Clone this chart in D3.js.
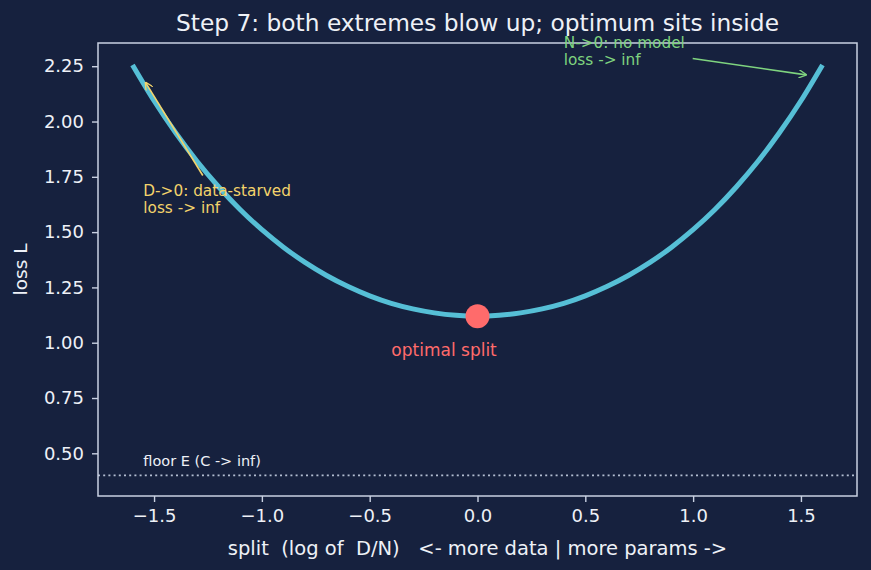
<!DOCTYPE html>
<html><head><meta charset="utf-8">
<script src="https://cdn.jsdelivr.net/npm/d3@7/dist/d3.min.js"></script>
<style>
html,body{margin:0;padding:0;background:#16213e;}
svg{display:block;font-family:"DejaVu Sans",sans-serif;}
text{white-space:pre;}
</style></head>
<body><svg id="c" width="871" height="570"></svg>
<script>
// split values (log of D/N)
const splits = [-1.6,-1.5,-1.4,-1.3,-1.2,-1.1,-1.0,-0.9,-0.8,-0.7,-0.6,-0.5,-0.4,-0.3,-0.2,-0.1,0.0,
                0.1,0.2,0.3,0.4,0.5,0.6,0.7,0.8,0.9,1.0,1.1,1.2,1.3,1.4,1.5,1.6];
const losses = [2.256,2.094,1.949,1.819,1.704,1.601,1.511,1.432,1.363,1.304,1.254,1.212,1.178,1.153,1.135,1.124,1.120,
                1.124,1.135,1.153,1.178,1.212,1.254,1.304,1.363,1.432,1.511,1.601,1.704,1.819,1.949,2.094,2.256];
const optimum = [0.0, 1.12];
const floorE = 0.4;
const xTicks = [-1.5,-1.0,-0.5,0.0,0.5,1.0,1.5];
const yTicks = [0.50,0.75,1.00,1.25,1.50,1.75,2.00,2.25];
const xDomain = [-1.76, 1.76];
const yDomain = [0.307, 2.355];
const titleText = "Step 7: both extremes blow up; optimum sits inside";
const xLabel = "split  (log of  D/N)   <- more data | more params ->";
const yLabel = "loss L";
// annotations: [text lines], text anchor (data), arrow from, arrow to
const annDataStarved = {lines:["D->0: data-starved","loss -> inf"], at:[-1.55,1.575], from:[-1.274,1.756], to:[-1.539,2.176]};
const annNoModel = {lines:["N->0: no model","loss -> inf"], at:[0.40,2.243], from:[0.998,2.285], to:[1.524,2.211]};
const annOptimal = {text:"optimal split", at:[-0.155,0.94]};
const annFloor = {text:"floor E (C -> inf)", at:[-1.55,0.441]};

const W=871,H=570;
const m={l:98,r:857,t:43,b:496};
const svg=d3.select("#c");
svg.append("rect").attr("width",W).attr("height",H).attr("fill","#16213e");
const x=d3.scaleLinear().domain(xDomain).range([m.l,m.r]);
const y=d3.scaleLinear().domain(yDomain).range([m.b,m.t]);

const txt="#eef1f7", spine="#c9d1e2";
const fmtMinus = v => (v<0?"\u2212":"")+Math.abs(v).toFixed(1);

// axes
const gx=svg.append("g").attr("transform",`translate(0,${m.b})`)
  .call(d3.axisBottom(x).tickValues(xTicks).tickFormat(fmtMinus).tickSize(6).tickPadding(7));
const gy=svg.append("g").attr("transform",`translate(${m.l},0)`)
  .call(d3.axisLeft(y).tickValues(yTicks).tickFormat(d3.format(".2f")).tickSize(6).tickPadding(8));
[gx,gy].forEach(g=>{
  g.select(".domain").remove();
  g.selectAll(".tick line").attr("stroke",spine).attr("stroke-width",1.4);
  g.selectAll(".tick text").attr("fill",txt).attr("font-size",18).attr("font-family","DejaVu Sans");
});

// floor line
svg.append("line").attr("x1",m.l).attr("x2",m.r).attr("y1",y(floorE)).attr("y2",y(floorE))
  .attr("stroke","#b3bed2").attr("stroke-width",1.8).attr("stroke-dasharray","2,3.2");

// curve
svg.append("path").datum(splits.map((s,i)=>[s,losses[i]]))
  .attr("d",d3.line().x(d=>x(d[0])).y(d=>y(d[1])).curve(d3.curveMonotoneX))
  .attr("fill","none").attr("stroke","#56bfd6").attr("stroke-width",5);

// optimum dot
svg.append("circle").attr("cx",x(optimum[0])).attr("cy",y(optimum[1])).attr("r",12).attr("fill","#ff6b6b");

// spines
svg.append("rect").attr("x",m.l).attr("y",m.t).attr("width",m.r-m.l).attr("height",m.b-m.t)
  .attr("fill","none").attr("stroke",spine).attr("stroke-width",1.5);

// arrows
const defs=svg.append("defs");
function marker(id,color){
  defs.append("marker").attr("id",id).attr("viewBox","0 0 10 10").attr("refX",9).attr("refY",5)
    .attr("markerWidth",8).attr("markerHeight",8).attr("markerUnits","userSpaceOnUse").attr("orient","auto")
    .append("path").attr("d","M0,0 L10,5 L0,10").attr("fill","none").attr("stroke",color).attr("stroke-width",1.6);
}
marker("ay","#f3d36b"); marker("ag","#7fd47f");
function arrow(a,color,mid){
  svg.append("line").attr("x1",x(a.from[0])).attr("y1",y(a.from[1])).attr("x2",x(a.to[0])).attr("y2",y(a.to[1]))
    .attr("stroke",color).attr("stroke-width",1.6).attr("marker-end",`url(#${mid})`);
}
arrow(annDataStarved,"#f3d36b","ay");
arrow(annNoModel,"#7fd47f","ag");

function multiText(a,color,size,lh){
  const n=a.lines.length;
  a.lines.forEach((l,i)=>{
    svg.append("text").attr("x",x(a.at[0])).attr("y",y(a.at[1])-(n-1-i)*lh-3)
      .attr("fill",color).attr("font-size",size).text(l);
  });
}
multiText(annDataStarved,"#f3d36b",15.3,17);
multiText(annNoModel,"#7fd47f",15.3,17);

svg.append("text").attr("x",x(annOptimal.at[0])).attr("y",y(annOptimal.at[1])).attr("text-anchor","middle")
  .attr("fill","#ff6b6b").attr("font-size",17).text(annOptimal.text);
svg.append("text").attr("x",x(annFloor.at[0])).attr("y",y(annFloor.at[1])).attr("fill",txt)
  .attr("font-size",14.5).text(annFloor.text);

// title & labels
svg.append("text").attr("x",(m.l+m.r)/2).attr("y",31).attr("text-anchor","middle")
  .attr("fill",txt).attr("font-size",23.3).text(titleText);
svg.append("text").attr("x",(m.l+m.r)/2).attr("y",555).attr("text-anchor","middle")
  .attr("fill",txt).attr("font-size",19.5).text(xLabel);
svg.append("text").attr("transform",`translate(27,${(m.t+m.b)/2}) rotate(-90)`).attr("text-anchor","middle")
  .attr("fill",txt).attr("font-size",18.5).text(yLabel);
</script></body></html>
